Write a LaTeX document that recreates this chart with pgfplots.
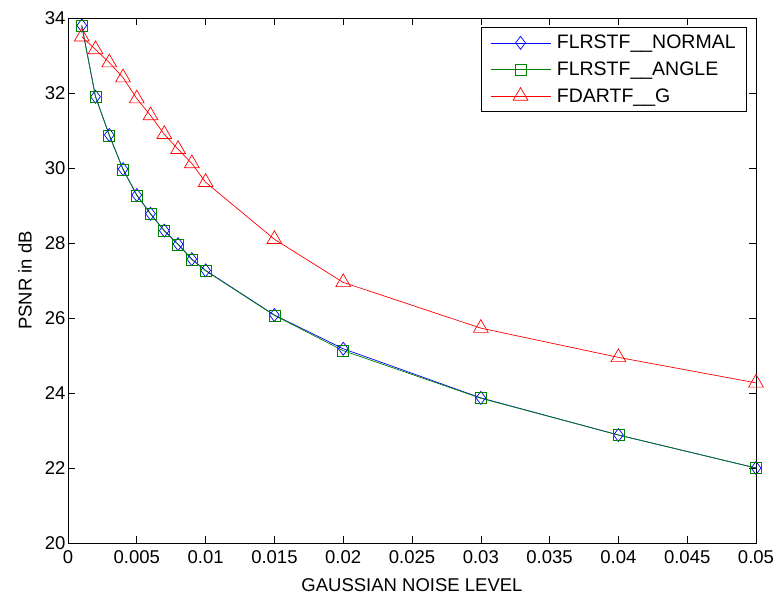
\documentclass[border=0pt]{standalone}
\usepackage{fontspec}
\setmainfont{Liberation Sans}
\usepackage{pgfplots}
\pgfplotsset{compat=1.18}
\begin{document}
\begin{tikzpicture}
\begin{axis}[
  at={(0,0)}, anchor=south west,
  scale only axis, width=688bp, height=525bp,
  xmin=0, xmax=0.05, ymin=20, ymax=34,
  xtick={0,0.005,...,0.05}, ytick={20,22,...,34},
  scaled x ticks=false,
  xticklabel style={/pgf/number format/fixed,/pgf/number format/precision=3, yshift=-4bp},
  yticklabel style={xshift=1bp},
  /pgf/number format/assume math mode=true,
  tick align=inside, major tick length=7bp,
  tick style={black, line width=0.6bp},
  axis line style={line width=0.8bp},
  font=\fontsize{18.5bp}{21bp}\selectfont,
  xlabel={GAUSSIAN NOISE LEVEL}, ylabel={PSNR in dB},
  xlabel style={at={(axis description cs:0.5,0)}, anchor=center, yshift=-42bp},
  ylabel style={at={(axis description cs:0,0.5)}, anchor=center, yshift=43bp},
  legend style={at={(0.987,0.983)}, anchor=north east, draw=black, line width=0.8bp,
    font=\fontsize{19.5bp}{22bp}\selectfont, row sep=7.5bp, inner xsep=9bp, inner ysep=6bp},
  legend cell align=left,
  legend image code/.code={\draw[mark repeat=2,mark phase=2,#1] plot coordinates {(0bp,0bp) (30bp,0bp) (60bp,0bp)}; \path (64bp,0bp);},
]
\addplot[blue, line width=0.7bp, mark=diamond, mark size=6.5bp, mark options={solid, line width=0.7bp}] coordinates {
(0.001,33.80) (0.002,31.90) (0.003,30.88) (0.004,29.97) (0.005,29.28) (0.006,28.78) (0.007,28.33) (0.008,27.97) (0.009,27.57) (0.010,27.27) (0.015,26.08) (0.020,25.18) (0.030,23.87) (0.040,22.88) (0.050,22.00)};
\addlegendentry{FLRSTF\_\_NORMAL}
\addplot[color={rgb,1:red,0;green,0.5;blue,0}, line width=0.7bp, mark=square, mark size=5.5bp, mark options={solid, line width=0.7bp}] coordinates {
(0.001,33.80) (0.002,31.90) (0.003,30.87) (0.004,29.96) (0.005,29.27) (0.006,28.77) (0.007,28.32) (0.008,27.96) (0.009,27.56) (0.010,27.26) (0.015,26.07) (0.020,25.13) (0.030,23.86) (0.040,22.88) (0.050,22.00)};
\addlegendentry{FLRSTF\_\_ANGLE}
\addplot[red, line width=0.7bp, mark=triangle, mark size=8.5bp, mark options={solid, line width=0.7bp}] coordinates {
(0.001,33.50) (0.002,33.16) (0.003,32.81) (0.004,32.41) (0.005,31.85) (0.006,31.40) (0.007,30.90) (0.008,30.50) (0.009,30.12) (0.010,29.62) (0.015,28.10) (0.020,26.95) (0.030,25.73) (0.040,24.95) (0.050,24.27)};
\addlegendentry{FDARTF\_\_G}
\end{axis}
\pgfresetboundingbox
\path (-68bp,-55bp) rectangle (709bp,543bp);
\end{tikzpicture}
\end{document}
